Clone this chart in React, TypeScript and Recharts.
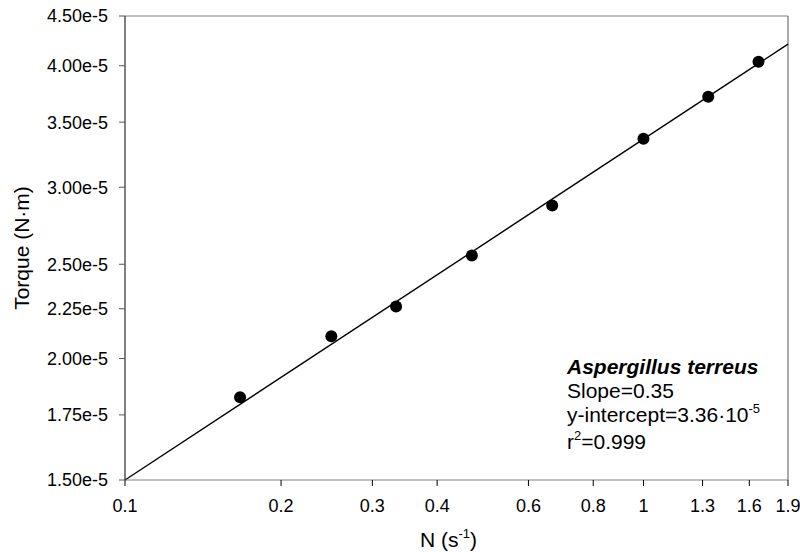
import {
  ScatterChart,
  Scatter,
  XAxis,
  YAxis,
  ReferenceLine,
} from "recharts";

// rotation speed N (s^-1) and measured torque (N·m)
const speed = [0.1667, 0.25, 0.3333, 0.4667, 0.6667, 1.0, 1.3333, 1.6667];
const torque = [1.825e-5, 2.108e-5, 2.262e-5, 2.553e-5, 2.873e-5, 3.365e-5, 3.716e-5, 4.037e-5];

// power-law fit line, read at the axis ends
const fitX = [0.1, 1.9];
const fitY = [1.5e-5, 4.21e-5];

const xTicks = [0.1, 0.2, 0.3, 0.4, 0.6, 0.8, 1, 1.3, 1.6, 1.9];
const yTicks = [1.5e-5, 1.75e-5, 2.0e-5, 2.25e-5, 2.5e-5, 3.0e-5, 3.5e-5, 4.0e-5, 4.5e-5];

const points = speed.map((n, i) => ({ n, t: torque[i] }));

const FONT = '"Liberation Sans", Arial, sans-serif';

const Dot = (props: any) => <circle cx={props.cx} cy={props.cy} r={6} fill="#000" />;

const XTitle = ({ viewBox }: any) => {
  const cx = viewBox.x + viewBox.width / 2 - 8;
  const y = viewBox.y + 67;
  return (
    <text x={cx} y={y} textAnchor="middle" fontFamily={FONT} fontSize={21} fill="#000">
      <tspan>N (s</tspan>
      <tspan fontSize={13} dy={-9}>-1</tspan>
      <tspan dy={9}>)</tspan>
    </text>
  );
};

const YTitle = ({ viewBox }: any) => {
  const x = viewBox.x + 21;
  const y = viewBox.y + viewBox.height / 2;
  return (
    <text
      x={x}
      y={y}
      textAnchor="middle"
      dominantBaseline="central"
      transform={`rotate(-90 ${x} ${y})`}
      fontFamily={FONT}
      fontSize={21}
      fill="#000"
    >
      Torque (N·m)
    </text>
  );
};

export default function App() {
  return (
    <div style={{ position: "absolute", left: 0, top: 0, width: 800, height: 552, background: "#fff" }}>
      <ScatterChart width={800} height={552} margin={{ top: 16, right: 12, bottom: 0, left: 0 }}>
        <XAxis
          type="number"
          dataKey="n"
          scale="log"
          domain={[0.1, 1.9]}
          ticks={xTicks}
          allowDataOverflow
          height={72}
          tickSize={6}
          tickMargin={13}
          stroke="#808080"
          tickLine={{ stroke: "#000" }}
          tick={{ fill: "#000", fontSize: 18, fontFamily: FONT }}
          label={{ content: <XTitle /> }}
        />
        <YAxis
          type="number"
          dataKey="t"
          scale="log"
          domain={[1.5e-5, 4.5e-5]}
          ticks={yTicks}
          allowDataOverflow
          width={125}
          tickSize={6}
          tickMargin={11}
          stroke="#000"
          tickLine={{ stroke: "#555" }}
          tick={{ fill: "#000", fontSize: 18, fontFamily: FONT }}
          tickFormatter={(v: number) => v.toExponential(2)}
          label={{ content: <YTitle /> }}
        />
        <ReferenceLine y={4.5e-5} stroke="#808080" strokeWidth={1} />
        <ReferenceLine x={1.9} stroke="#555" strokeWidth={1} />
        <ReferenceLine
          segment={[
            { x: fitX[0], y: fitY[0] },
            { x: fitX[1], y: fitY[1] },
          ]}
          stroke="#000"
          strokeWidth={1.4}
        />
        <Scatter data={points} shape={<Dot />} isAnimationActive={false} />
      </ScatterChart>
      <div
        style={{
          position: "absolute",
          left: 567,
          top: 355,
          fontFamily: FONT,
          fontSize: 21,
          lineHeight: "24px",
          color: "#000",
          whiteSpace: "nowrap",
        }}
      >
        <div style={{ fontWeight: "bold", fontStyle: "italic" }}>Aspergillus terreus</div>
        <div>Slope=0.35</div>
        <div>
          y-intercept=3.36·10
          <span style={{ fontSize: 13, position: "relative", top: -9 }}>-5</span>
        </div>
        <div>
          r<span style={{ fontSize: 13, position: "relative", top: -9 }}>2</span>=0.999
        </div>
      </div>
    </div>
  );
}
